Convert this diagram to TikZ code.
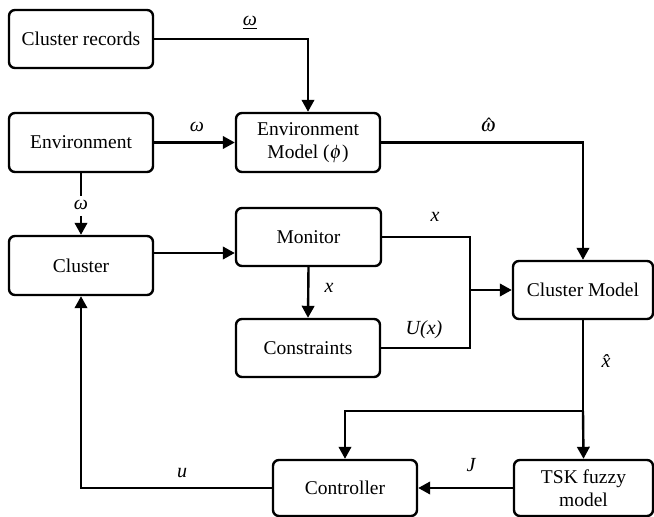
\documentclass[tikz,border=0pt]{standalone}
\usepackage{mathptmx}
\usepackage{fontspec}
\setmainfont{Liberation Serif}
\newfontfamily\boxfont{Liberation Serif}
\usetikzlibrary{arrows.meta}
\begin{document}
\begin{tikzpicture}[x=1pt,y=1pt,
  box/.style={draw, line width=2.4pt, rounded corners=6pt, minimum width=144pt, minimum height=58pt, inner sep=0pt, align=center, font=\boxfont\fontsize{19.5}{23.5}\selectfont},
  conn/.style={line width=2.4pt},
  arr/.style={conn, -{Triangle[length=12pt,width=12.5pt]}},
  lbl/.style={font=\boxfont\itshape\fontsize{20}{24}\selectfont, inner sep=0pt}]
\useasboundingbox (0,0) rectangle (654,517);
% boxes
\node[box] (rec) at (81,478) {Cluster records};
\node[box, minimum height=59pt] (env) at (81,374.5) {Environment};
\node[box, minimum height=59pt] (envm) at (308,374.5) {Environment\\Model ($\phi$)};
\node[box, minimum height=59pt] (clu) at (81,251.5) {Cluster};
\node[box, minimum width=145pt] (mon) at (308.5,280) {Monitor};
\node[box] (con) at (308,169) {Constraints};
\node[box, minimum width=140pt] (cm) at (583,227) {Cluster Model};
\node[box, minimum height=56pt] (ctrl) at (345,29) {Controller};
\node[box, minimum width=139pt, minimum height=56pt] (tsk) at (583.5,29) {TSK fuzzy\\model};
% helper coordinates
\coordinate (junc) at (470,227);
\coordinate (split) at (583,106);
% connectors
\draw[arr] (rec.east) -| (envm.north);
\node[lbl] (l1) at (250,494) {\underline{ω}};
\draw[arr] (env.east) -- (envm.west);
\node[lbl] (l2) at (197,390) {ω};
\draw[arr] (envm.east) -| (cm.north);
\node[lbl] (l3) at (488,392) {$\hat{\omega}$};
\draw[conn] (env.south) -- ([yshift=-23pt]env.south);
\draw[arr] ([yshift=19pt]clu.north) -- (clu.north);
\node[lbl] (l4) at (81,312) {ω};
\draw[arr] ([yshift=12.5pt]clu.east) -- ([yshift=12.5pt]clu.east -| mon.west);
\draw[arr] (mon.south) -- (con.north);
\node[lbl] (l5) at (329,229) {x};
\draw[conn] (mon.east) -| (junc) |- (con.east);
\draw[arr] (junc) -- (cm.west);
\node[lbl] (l6) at (435,300) {x};
\node[lbl] (l7) at (424,187) {U(x)};
\draw[conn] (cm.south) -- (split);
\draw[arr] (split) -- (tsk.north);
\draw[arr] (split) -| (ctrl.north);
\node[lbl] (l8) at (606,156) {x̂};
\draw[arr] (tsk.west) -- (ctrl.east);
\node[lbl] (l9) at (471,52) {J};
\draw[arr] (ctrl.west) -| (clu.south);
\node[lbl] (l10) at (182,44) {u};
\end{tikzpicture}
\end{document}
